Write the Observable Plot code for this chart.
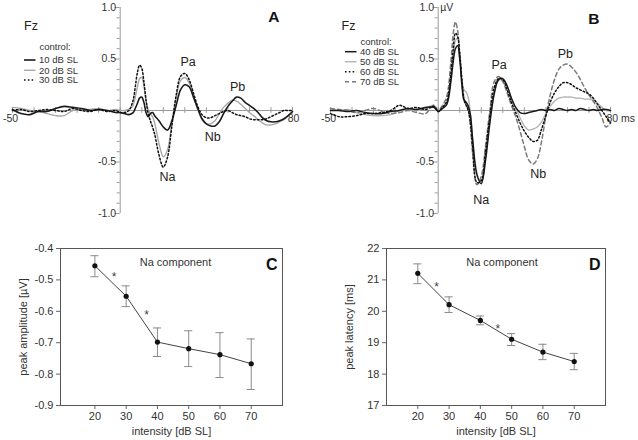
<!DOCTYPE html>
<html><head><meta charset="utf-8">
<script src="https://cdn.jsdelivr.net/npm/d3@7"></script>
<script src="https://cdn.jsdelivr.net/npm/@observablehq/plot@0.6"></script>
<style>
body{margin:0;background:#fff;font-family:"Liberation Sans",Arial,sans-serif;}
#root{position:relative;width:638px;height:440px;overflow:hidden;background:#fff;}
.panel{position:absolute;}
.panel svg{overflow:visible;}
#overlay{position:absolute;left:0;top:0;pointer-events:none;}
</style></head><body><div id="root"></div>
<script>
// ---------- DATA ----------
const timeMs = [-50,-46,-42,-38,-34,-30,-26,-22,-18,-14,-10,-6,-2,0,2,4,6,7,8,9,10,11,12,13,14,15,16,18,20,22,24,26,28,30,32,34,36,38,40,42,44,46,48,50,52,54,56,58,60,62,64,66,68,70,72,74,76,78,80];

// Panel A (control, low intensities), µV
const a10 = [0.01,-0.03,-0.04,-0.01,-0.01,0.02,0.04,0.03,0.02,0.0,0.01,0.0,-0.02,
  -0.02,-0.03,-0.04,-0.02,
  0.02,0.07,0.12,0.13,0.08,-0.02,-0.06,-0.03,-0.02,-0.05,
  -0.1,-0.16,-0.19,-0.1,0.05,0.2,0.25,0.23,0.13,0.02,-0.08,-0.13,-0.15,-0.15,-0.11,-0.03,0.04,0.09,0.13,0.12,0.08,0.05,0.02,-0.02,-0.07,-0.1,-0.11,-0.11,-0.1,-0.08,-0.05,-0.01];
const a20 = [0.03,0.02,0.0,-0.01,-0.03,-0.05,-0.05,0.0,0.01,0.01,0.02,0.0,0.01,
  0.0,0.0,0.01,0.05,
  0.13,0.23,0.31,0.32,0.24,0.1,0.01,-0.03,-0.06,-0.12,
  -0.32,-0.45,-0.38,-0.12,0.12,0.29,0.32,0.27,0.14,0.01,-0.09,-0.13,-0.13,-0.1,-0.03,0.03,0.07,0.1,0.09,0.06,0.02,-0.02,-0.05,-0.09,-0.12,-0.14,-0.14,-0.13,-0.11,-0.09,-0.05,-0.02];
const a30 = [0.0,0.01,-0.01,0.0,0.01,0.0,-0.01,0.02,0.0,-0.01,0.01,-0.01,0.0,
  -0.02,-0.02,0.0,0.1,
  0.23,0.37,0.44,0.41,0.28,0.1,-0.03,-0.1,-0.16,-0.23,
  -0.43,-0.55,-0.45,-0.15,0.15,0.33,0.36,0.3,0.17,0.04,-0.04,-0.07,-0.07,-0.05,-0.03,-0.01,0.0,-0.02,-0.04,-0.05,-0.06,-0.08,-0.09,-0.09,-0.09,-0.08,-0.06,-0.04,-0.02,0.0,0.0,0.0];

// Panel B (control, high intensities), µV
const b40 = [0.0,0.0,-0.01,0.0,-0.02,-0.03,-0.03,-0.01,0.0,0.02,0.01,0.03,0.03,
  -0.01,0.02,0.06,0.3,
  0.48,0.6,0.63,0.5,0.25,0.1,0.08,0.04,-0.05,-0.28,
  -0.62,-0.71,-0.48,-0.12,0.16,0.3,0.31,0.24,0.12,0.03,-0.02,-0.03,-0.02,-0.01,0.0,0.01,0.0,0.01,0.0,0.02,0.01,0.0,0.01,0.0,0.02,0.01,0.0,0.01,0.0,0.01,0.01,0.0];
const b50 = [0.02,0.0,0.01,-0.02,-0.04,-0.05,-0.05,-0.04,0.0,0.01,0.0,0.02,0.05,
  0.0,0.04,0.08,0.33,
  0.53,0.68,0.7,0.55,0.3,0.2,0.18,0.12,-0.03,-0.28,
  -0.64,-0.69,-0.44,-0.1,0.17,0.29,0.3,0.23,0.11,0.02,-0.07,-0.15,-0.19,-0.18,-0.16,-0.11,-0.03,0.04,0.09,0.12,0.13,0.13,0.13,0.12,0.12,0.11,0.11,0.1,0.07,0.03,0.0,0.0];
const b60 = [-0.03,-0.06,-0.06,-0.05,-0.03,-0.03,-0.02,0.0,0.05,0.02,0.03,0.01,0.04,
  -0.01,0.03,0.09,0.38,
  0.6,0.75,0.72,0.55,0.3,0.1,0.05,0.0,-0.12,-0.36,
  -0.7,-0.68,-0.4,-0.05,0.22,0.31,0.3,0.2,0.08,-0.02,-0.12,-0.2,-0.26,-0.3,-0.29,-0.18,-0.05,0.08,0.17,0.23,0.27,0.27,0.25,0.22,0.2,0.18,0.16,0.12,0.06,0.0,-0.06,-0.12];
const b70 = [0.02,0.01,0.0,-0.02,0.0,0.02,-0.01,-0.03,-0.02,0.0,-0.02,-0.03,0.05,
  0.0,0.05,0.14,0.5,
  0.75,0.86,0.78,0.55,0.3,0.12,0.06,0.0,-0.16,-0.42,
  -0.72,-0.64,-0.34,0.0,0.28,0.33,0.28,0.17,0.05,-0.06,-0.2,-0.35,-0.48,-0.52,-0.47,-0.3,-0.05,0.15,0.3,0.4,0.44,0.45,0.42,0.37,0.3,0.22,0.15,0.09,0.02,-0.07,-0.16,-0.12];

const legendA = ["10 dB SL","20 dB SL","30 dB SL"];
const legendB = ["40 dB SL","50 dB SL","60 dB SL","70 dB SL"];
const peakNames = ["Pa","Na","Nb","Pb"];
const peakA_t = [31.5, 22, 43, 54.5];
const peakA_v = [0.47, -0.65, -0.26, 0.23];
const peakB_t = [28.3, 20, 46.4, 59];
const peakB_v = [0.44, -0.87, -0.62, 0.55];
const yTickLabelsTop = [1.0, 0.5, -0.5, -1.0];

// Panels C and D (Na component)
const intensity = [20,30,40,50,60,70];
const ampMean = [-0.455,-0.552,-0.698,-0.719,-0.738,-0.767];
const ampHi   = [-0.423,-0.519,-0.653,-0.662,-0.668,-0.688];
const ampLo   = [-0.490,-0.585,-0.744,-0.776,-0.811,-0.849];
const latMean = [21.21,20.21,19.71,19.11,18.70,18.40];
const latHi   = [21.51,20.46,19.85,19.29,18.95,18.66];
const latLo   = [20.88,19.96,19.57,18.91,18.46,18.14];
const ampSigX = [26.1, 36.5], ampSigY = [-0.483, -0.604];
const latSigX = [26.0, 45.6], latSigY = [20.88, 19.53];
const ampTicks = [-0.9,-0.8,-0.7,-0.6,-0.5,-0.4];
const latTicks = [17,18,19,20,21,22];

// ---------- BUILD ----------
[a10,a20,a30,b40,b50,b60,b70].forEach((s,i)=>{ if (s.length!==timeMs.length) throw new Error("len mismatch "+i+" "+s.length); });
const FONT = '"Liberation Sans", Arial, sans-serif';
const AX = "#9a9a9a";
const toRows = (vals) => timeMs.map((t,i)=>({t, v: vals[i]}));

function topPanel(seriesDefs, peakT, peakV, letter, letterDx, letterDy, fzDx, fzDy, isB){
  const yMinor = d3.range(-10, 11).map(k=>k/10).filter(v=>Math.abs(v)>1e-9 && Math.abs(v*2 - Math.round(v*2))>1e-9);
  const yMajor = [-1,-0.5,0.5,1];
  const xTicks = d3.range(-50, 81, 10);
  const marks = [
    Plot.ruleY([0], {x1:-50, x2:80, stroke:AX, strokeWidth:1}),
    Plot.ruleX([0], {y1:-1, y2:1, stroke:AX, strokeWidth:1}),
    Plot.ruleX(xTicks, {y1:-0.028, y2:0.028, stroke:AX}),
    Plot.ruleY(yMinor, {x1:-1.4, x2:0, stroke:AX}),
    Plot.ruleY(yMajor, {x1:-2.3, x2:0, stroke:AX}),
    Plot.text(yTickLabelsTop, {x:0, y:d=>d, text:d=>d.toFixed(1), dx:-4, textAnchor:"end", fill:"#333", fontSize:10.5}),
    Plot.text(["-50"], {x:-50, y:0, dx:-2, dy:8, fill:"#333", fontSize:10.5}),
    isB ? Plot.text(["80 ms"], {x:80, y:0, dx:-4, dy:8, textAnchor:"start", fill:"#333", fontSize:10.5})
        : Plot.text(["80"], {x:80, y:0, dx:1, dy:8, fill:"#333", fontSize:10.5}),
  ];
  if (isB) marks.push(Plot.text(["µV"], {x:0, y:1, dx:2, textAnchor:"start", fill:"#333", fontSize:10.5}));
  for (const s of seriesDefs) {
    marks.push(Plot.line(toRows(s.vals), {x:"t", y:"v", curve:"catmull-rom", stroke:s.stroke, strokeWidth:s.w, strokeDasharray:s.dash}));
  }
  marks.push(
    Plot.text(peakNames, {x:(d,i)=>peakT[i], y:(d,i)=>peakV[i], text:d=>d, fontSize:12.5, fill:"#222"}),
    Plot.text(["Fz"], {frameAnchor:"top-left", dx:fzDx, dy:fzDy, fontSize:12.5, fill:"#222"}),
    Plot.text([letter], {frameAnchor:"top-right", dx:letterDx, dy:letterDy, fontSize:15.5, fontWeight:"bold", fill:"#111"})
  );
  return Plot.plot({
    width:320, height:220, marginLeft:12, marginRight:28, marginTop:7, marginBottom:7,
    x:{domain:[-50,80], axis:null}, y:{domain:[-1,1], axis:null},
    style:{fontFamily:FONT, background:"transparent", overflow:"visible"},
    marks
  });
}

function bottomPanel(o){
  const rows = intensity.map((x,i)=>({x, m:o.mean[i], hi:o.hi[i], lo:o.lo[i]}));
  const capW = 1.3;
  return Plot.plot({
    width:o.width, height:215, marginLeft:o.ml, marginRight:o.mr, marginTop:23, marginBottom:35,
    x:{domain:o.xdom}, y:{domain:o.ydom},
    style:{fontFamily:FONT, fontSize:"11px", background:"transparent", color:"#333", overflow:"visible"},
    marks:[
      Plot.axisX({ticks:intensity, tickSize:4, tickPadding:3, stroke:"#666", fontSize:11, label:"intensity [dB SL]", labelAnchor:"center", labelOffset:29, labelArrow:"none"}),
      Plot.axisY({ticks:o.ticks, tickSize:4, tickPadding:3, stroke:"#666", fontSize:11, tickFormat:o.fmt, label:o.ylabel, labelAnchor:"center", labelOffset:o.lo_off, labelArrow:"none"}),
      Plot.ruleX(rows, {x:"x", y1:"lo", y2:"hi", stroke:"#8a8a8a"}),
      Plot.ruleY(rows, {y:"hi", x1:d=>d.x-capW, x2:d=>d.x+capW, stroke:"#8a8a8a"}),
      Plot.ruleY(rows, {y:"lo", x1:d=>d.x-capW, x2:d=>d.x+capW, stroke:"#8a8a8a"}),
      Plot.line(rows, {x:"x", y:"m", stroke:"#444", strokeWidth:1}),
      Plot.dot(rows, {x:"x", y:"m", r:2.6, fill:"#111", stroke:"none"}),
      Plot.text(o.sigX, {x:d=>d, y:(d,i)=>o.sigY[i], text:()=>"*", fontSize:12, dy:3, fill:"#444"}),
      Plot.text(["Na component"], {frameAnchor:"top", dx:o.titleDx, dy:10, fontSize:11, fill:"#333"}),
      Plot.text([o.letter], {frameAnchor:"top-right", dx:-5, dy:10, textAnchor:"end", fontSize:16, fontWeight:"bold", fill:"#111"}),
      Plot.frame({stroke:"#555"})
    ]
  });
}

const root = document.getElementById("root");
function place(el, left, top){ const d=document.createElement("div"); d.className="panel"; d.style.left=left+"px"; d.style.top=top+"px"; d.appendChild(el); root.appendChild(d); }

place(topPanel([
  {vals:a20, stroke:"#a8a8a8", w:1.4},
  {vals:a10, stroke:"#1a1a1a", w:1.6},
  {vals:a30, stroke:"#111", w:1.5, dash:"1.6,2.2"}
], peakA_t, peakA_v, "A", -13, 3, 11.5, 14, false), 0, 0);

place(topPanel([
  {vals:b50, stroke:"#b3b3b3", w:1.4},
  {vals:b70, stroke:"#7a7a7a", w:1.5, dash:"4,3"},
  {vals:b40, stroke:"#1a1a1a", w:1.5},
  {vals:b60, stroke:"#111", w:1.5, dash:"1.6,2.2"}
], peakB_t, peakB_v, "B", -11, 5, 11, 14, true), 318, 0);

place(bottomPanel({width:318, ml:60, mr:36, xdom:[9,80], ydom:[-0.9,-0.4], ticks:ampTicks, fmt:d=>d.toFixed(1),
  ylabel:"peak amplitude [µV]", lo_off:41, mean:ampMean, hi:ampHi, lo:ampLo, sigX:ampSigX, sigY:ampSigY, titleDx:4, letter:"C"}), 0, 225);

place(bottomPanel({width:320, ml:68, mr:33, xdom:[10,80], ydom:[17,22], ticks:latTicks, fmt:d=>String(d),
  ylabel:"peak latency [ms]", lo_off:41, mean:latMean, hi:latHi, lo:latLo, sigX:latSigX, sigY:latSigY, titleDx:6, letter:"D"}), 318, 225);

// ---------- LEGENDS ----------
const ov = d3.select(root).append("svg").attr("id","overlay").attr("width",638).attr("height",440)
  .style("font-family", FONT).style("font-size","9.5px");
function legend(x0, yTitle, rowYs, labels, styles){
  ov.append("text").attr("x", x0+15.5).attr("y", yTitle).attr("dy","0.35em").attr("fill","#333").text("control:");
  labels.forEach((lab,i)=>{
    const s = styles[i];
    ov.append("line").attr("x1",x0).attr("x2",x0+11.5).attr("y1",rowYs[i]).attr("y2",rowYs[i])
      .attr("stroke",s.stroke).attr("stroke-width",s.w).attr("stroke-dasharray",s.dash||null);
    ov.append("text").attr("x",x0+15).attr("y",rowYs[i]).attr("dy","0.35em").attr("fill","#333").text(lab);
  });
}
legend(24, 46.5, [60,70.3,80], legendA, [
  {stroke:"#1a1a1a", w:1.6},{stroke:"#a8a8a8", w:1.4},{stroke:"#111", w:1.5, dash:"1.6,2.2"}]);
legend(345, 41.7, [51.7,61.7,71.7,81.7], legendB, [
  {stroke:"#1a1a1a", w:1.5},{stroke:"#b3b3b3", w:1.4},{stroke:"#111", w:1.5, dash:"1.6,2.2"},{stroke:"#7a7a7a", w:1.5, dash:"4,3"}]);
</script></body></html>
